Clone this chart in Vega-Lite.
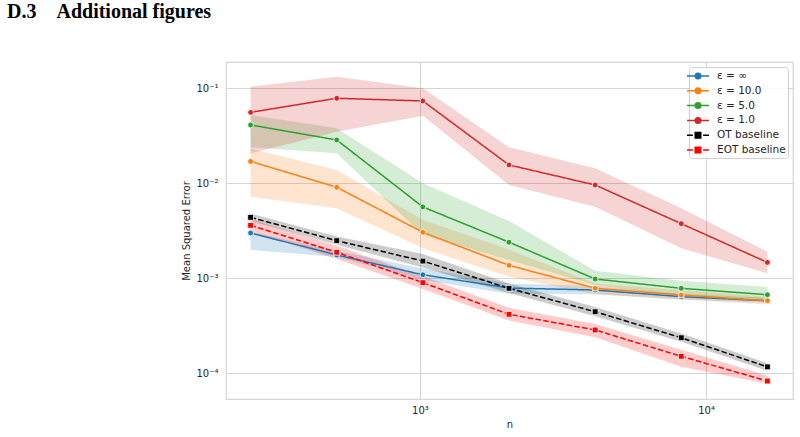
{
  "$schema": "https://vega.github.io/schema/vega-lite/v6.json",
  "autosize": "none",
  "width": 567,
  "height": 337,
  "padding": {"left": 226, "top": 62, "right": 7, "bottom": 38},
  "background": "white",
  "title": {
    "text": "D.3\u2003Additional figures",
    "anchor": "start",
    "frame": "group",
    "font": "Liberation Serif",
    "fontSize": 20,
    "fontWeight": "bold",
    "color": "#000000",
    "dx": -219,
    "offset": 24,
    "baseline": "alphabetic"
  },
  "config": {
    "view": {"stroke": "#d6d6d6", "strokeWidth": 1.25},
    "axis": {
      "labelFont": "DejaVu Sans",
      "titleFont": "DejaVu Sans",
      "labelFontSize": 10,
      "titleFontSize": 10,
      "titleFontWeight": "normal",
      "labelColor": "#262626",
      "titleColor": "#262626",
      "gridColor": "#d4d4d4",
      "gridWidth": 1,
      "ticks": false,
      "domain": false
    }
  },
  "data": {
    "values": [
      {"series": "ε = ∞", "kind": "method", "n": 256, "mse": 0.00300, "lo": 0.00199, "hi": 0.0031},
      {"series": "ε = ∞", "kind": "method", "n": 512, "mse": 0.00176, "lo": 0.00168, "hi": 0.00195},
      {"series": "ε = ∞", "kind": "method", "n": 1024, "mse": 0.00109, "lo": 0.00096, "hi": 0.00127},
      {"series": "ε = ∞", "kind": "method", "n": 2048, "mse": 0.00079, "lo": 0.00069, "hi": 0.00088},
      {"series": "ε = ∞", "kind": "method", "n": 4096, "mse": 0.000753, "lo": 0.00068, "hi": 0.00083},
      {"series": "ε = ∞", "kind": "method", "n": 8192, "mse": 0.000641, "lo": 0.0006, "hi": 0.00069},
      {"series": "ε = ∞", "kind": "method", "n": 16384, "mse": 0.00058, "lo": 0.00055, "hi": 0.00062},

      {"series": "ε = 10.0", "kind": "method", "n": 256, "mse": 0.0170, "lo": 0.00723, "hi": 0.0233},
      {"series": "ε = 10.0", "kind": "method", "n": 512, "mse": 0.00908, "lo": 0.00546, "hi": 0.0138},
      {"series": "ε = 10.0", "kind": "method", "n": 1024, "mse": 0.00305, "lo": 0.00207, "hi": 0.00411},
      {"series": "ε = 10.0", "kind": "method", "n": 2048, "mse": 0.00137, "lo": 0.00104, "hi": 0.0020},
      {"series": "ε = 10.0", "kind": "method", "n": 4096, "mse": 0.000785, "lo": 0.00068, "hi": 0.00088},
      {"series": "ε = 10.0", "kind": "method", "n": 8192, "mse": 0.000667, "lo": 0.0006, "hi": 0.00075},
      {"series": "ε = 10.0", "kind": "method", "n": 16384, "mse": 0.000581, "lo": 0.00053, "hi": 0.00064},

      {"series": "ε = 5.0", "kind": "method", "n": 256, "mse": 0.0411, "lo": 0.0239, "hi": 0.0523},
      {"series": "ε = 5.0", "kind": "method", "n": 512, "mse": 0.0286, "lo": 0.0207, "hi": 0.038},
      {"series": "ε = 5.0", "kind": "method", "n": 1024, "mse": 0.00564, "lo": 0.00286, "hi": 0.0100},
      {"series": "ε = 5.0", "kind": "method", "n": 2048, "mse": 0.00240, "lo": 0.00156, "hi": 0.0040},
      {"series": "ε = 5.0", "kind": "method", "n": 4096, "mse": 0.000984, "lo": 0.00085, "hi": 0.0012},
      {"series": "ε = 5.0", "kind": "method", "n": 8192, "mse": 0.000785, "lo": 0.00065, "hi": 0.00094},
      {"series": "ε = 5.0", "kind": "method", "n": 16384, "mse": 0.000672, "lo": 0.00058, "hi": 0.00081},

      {"series": "ε = 1.0", "kind": "method", "n": 256, "mse": 0.0558, "lo": 0.0207, "hi": 0.104},
      {"series": "ε = 1.0", "kind": "method", "n": 512, "mse": 0.0785, "lo": 0.0349, "hi": 0.132},
      {"series": "ε = 1.0", "kind": "method", "n": 1024, "mse": 0.0735, "lo": 0.0513, "hi": 0.100},
      {"series": "ε = 1.0", "kind": "method", "n": 2048, "mse": 0.0156, "lo": 0.0096, "hi": 0.0239},
      {"series": "ε = 1.0", "kind": "method", "n": 4096, "mse": 0.0096, "lo": 0.00568, "hi": 0.0144},
      {"series": "ε = 1.0", "kind": "method", "n": 8192, "mse": 0.00376, "lo": 0.00207, "hi": 0.00546},
      {"series": "ε = 1.0", "kind": "method", "n": 16384, "mse": 0.00147, "lo": 0.00113, "hi": 0.0019},

      {"series": "OT baseline", "kind": "baseline", "n": 256, "mse": 0.00438, "lo": 0.0040, "hi": 0.0048},
      {"series": "OT baseline", "kind": "baseline", "n": 512, "mse": 0.00249, "lo": 0.00225, "hi": 0.00275},
      {"series": "OT baseline", "kind": "baseline", "n": 1024, "mse": 0.00152, "lo": 0.0013, "hi": 0.0018},
      {"series": "OT baseline", "kind": "baseline", "n": 2048, "mse": 0.000785, "lo": 0.0007, "hi": 0.00088},
      {"series": "OT baseline", "kind": "baseline", "n": 4096, "mse": 0.000445, "lo": 0.0004, "hi": 0.0005},
      {"series": "OT baseline", "kind": "baseline", "n": 8192, "mse": 0.000237, "lo": 0.000215, "hi": 0.000262},
      {"series": "OT baseline", "kind": "baseline", "n": 16384, "mse": 0.000117, "lo": 0.000106, "hi": 0.000128},

      {"series": "EOT baseline", "kind": "baseline", "n": 256, "mse": 0.00361, "lo": 0.0031, "hi": 0.0042},
      {"series": "EOT baseline", "kind": "baseline", "n": 512, "mse": 0.00188, "lo": 0.0016, "hi": 0.0022},
      {"series": "EOT baseline", "kind": "baseline", "n": 1024, "mse": 0.00090, "lo": 0.00077, "hi": 0.00105},
      {"series": "EOT baseline", "kind": "baseline", "n": 2048, "mse": 0.000418, "lo": 0.00036, "hi": 0.00049},
      {"series": "EOT baseline", "kind": "baseline", "n": 4096, "mse": 0.000286, "lo": 0.00024, "hi": 0.00033},
      {"series": "EOT baseline", "kind": "baseline", "n": 8192, "mse": 0.000151, "lo": 0.000117, "hi": 0.000177},
      {"series": "EOT baseline", "kind": "baseline", "n": 16384, "mse": 0.000083, "lo": 0.000078, "hi": 0.000095}
    ]
  },
  "encoding": {
    "x": {
      "field": "n",
      "type": "quantitative",
      "title": "n",
      "scale": {"type": "log", "domain": [210, 20130], "nice": false},
      "axis": {
        "values": [1000, 10000],
        "labelExpr": "datum.value < 5000 ? '10³' : '10⁴'",
        "labelPadding": 6,
        "titlePadding": 4
      }
    },
    "color": {
      "field": "series",
      "type": "nominal",
      "scale": {
        "domain": ["ε = ∞", "ε = 10.0", "ε = 5.0", "ε = 1.0", "OT baseline", "EOT baseline"],
        "range": ["#1f77b4", "#ff7f0e", "#2ca02c", "#d62728", "#000000", "#ff0000"]
      }
    }
  },
  "layer": [
    {
      "mark": {"type": "area", "fillOpacity": 0.2, "strokeWidth": 0},
      "encoding": {
        "y": {
          "field": "lo",
          "type": "quantitative",
          "title": "Mean Squared Error",
          "scale": {"type": "log", "domain": [0.0000537, 0.189], "nice": false},
          "axis": {
            "values": [0.0001, 0.001, 0.01, 0.1],
            "labelExpr": "round(log(datum.value)/LN10) == -1 ? '10⁻¹' : round(log(datum.value)/LN10) == -2 ? '10⁻²' : round(log(datum.value)/LN10) == -3 ? '10⁻³' : '10⁻⁴'",
            "labelPadding": 8,
            "titlePadding": 4
          }
        },
        "y2": {"field": "hi"}
      }
    },
    {
      "mark": {"type": "line", "strokeWidth": 1.5},
      "encoding": {
        "y": {"field": "mse", "type": "quantitative"},
        "strokeDash": {
          "field": "kind",
          "type": "nominal",
          "scale": {"domain": ["method", "baseline"], "range": [[1, 0], [5.5, 2.4]]},
          "legend": null
        },
        "color": {
          "field": "series",
          "type": "nominal",
          "legend": {
            "title": null,
            "orient": "top-right",
            "offset": 5,
            "padding": 2,
            "rowPadding": 1.8,
            "labelFont": "DejaVu Sans",
            "labelFontSize": 10.5,
            "labelColor": "#262626",
            "labelOffset": 12,
            "symbolSize": 144,
            "strokeColor": "#d0d0d0",
            "fillColor": "rgba(255,255,255,0.85)",
            "cornerRadius": 3,
            "encode": {
              "symbols": {
                "update": {
                  "shape": {"signal": "(datum.value == 'OT baseline' || datum.value == 'EOT baseline') ? 'M-1.83,0H-0.85M0.85,0H1.83M-0.46,-0.46H0.46V0.46H-0.46Z' : 'M-1.83,0H1.83M0.46,0A0.46,0.46,0,1,1,-0.46,0A0.46,0.46,0,1,1,0.46,0Z'"},
                  "fill": {"scale": "color", "field": "value"},
                  "stroke": {"scale": "color", "field": "value"},
                  "strokeWidth": {"value": 1.5},
                  "opacity": {"value": 1},
                  "fillOpacity": {"value": 1},
                  "strokeOpacity": {"value": 1},
                  "size": {"value": 144}
                }
              }
            }
          }
        }
      }
    },
    {
      "mark": {"type": "point", "filled": true, "opacity": 1, "stroke": "white", "strokeWidth": 0.8, "size": 34},
      "encoding": {
        "y": {"field": "mse", "type": "quantitative"},
        "shape": {
          "field": "kind",
          "type": "nominal",
          "scale": {"domain": ["method", "baseline"], "range": ["circle", "square"]},
          "legend": null
        }
      }
    }
  ]
}
